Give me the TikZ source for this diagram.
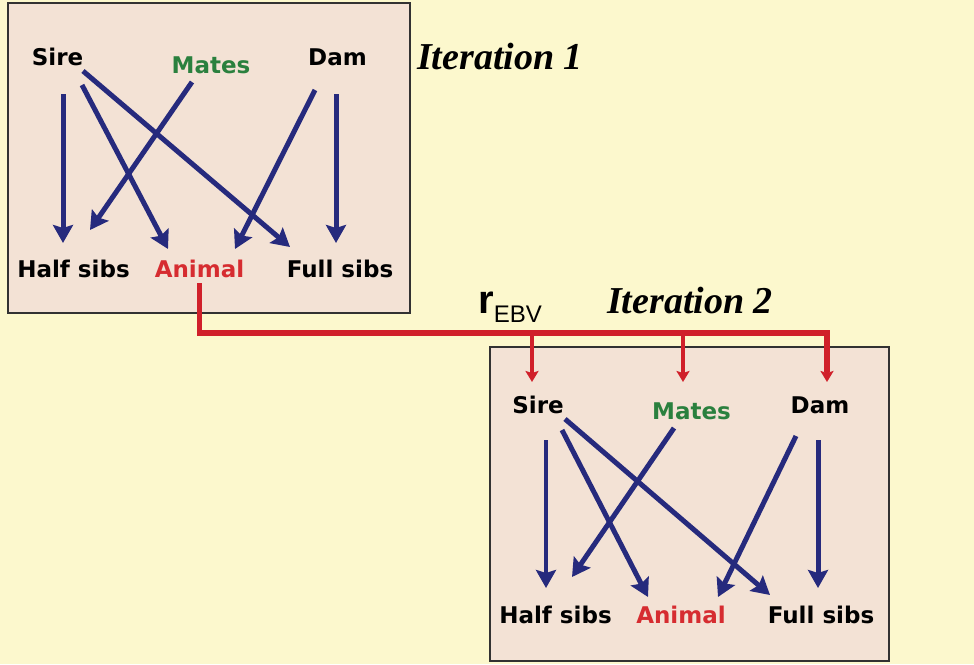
\documentclass[tikz,border=0pt]{standalone}
\usepackage{fontspec}
\usetikzlibrary{arrows.meta,calc}
\newfontfamily\labfont{DejaVu Sans}
\newfontfamily\iterfont{Liberation Serif}
\newfontfamily\rfont{Liberation Sans}
\definecolor{bgyellow}{RGB}{252,248,205}
\definecolor{boxfill}{RGB}{243,226,213}
\definecolor{boxline}{RGB}{50,50,50}
\definecolor{navy}{RGB}{38,42,125}
\definecolor{redline}{RGB}{208,32,42}
\definecolor{mategreen}{RGB}{42,128,62}
\definecolor{animred}{RGB}{214,44,48}
\tikzset{
  lab/.style={font=\labfont\bfseries\fontsize{23}{27}\selectfont, inner sep=0pt, anchor=base},
  blk/.style={lab, text=black},
  mate/.style={lab, text=mategreen},
  anim/.style={lab, text=animred},
  iter/.style={font=\iterfont\bfseries\itshape\fontsize{38}{44}\selectfont, inner sep=0pt, anchor=base west},
  panel/.style={draw=boxline, line width=2.2pt, fill=boxfill},
  link/.style={draw=navy, line width=5pt, -{Stealth[length=18pt,width=20pt,inset=3pt]}},
  thinlink/.style={link, line width=4pt},
  feed/.style={draw=redline, line width=5.5pt},
  feedarrow/.style={feed, line width=4.5pt, -{Stealth[length=11pt,width=13pt,inset=2pt]}}
}
\begin{document}
\begin{tikzpicture}[x=1pt,y=-1pt]
\useasboundingbox[fill=bgyellow] (0,0) rectangle (974,664);
% panels
\path[panel] (8,3) rectangle (410,313);
\path[panel] (490,347) rectangle (889,661);
% labels panel 1
\node[blk]  (sire1)   at (57.5,65)  {Sire};
\node[mate] (mates1)  at (211,73)   {Mates};
\node[blk]  (dam1)    at (337.5,65) {Dam};
\node[blk]  (half1)   at (73.5,277) {Half sibs};
\node[anim] (animal1) at (199.5,277){Animal};
\node[blk]  (full1)   at (340,277)  {Full sibs};
% labels panel 2
\node[blk]  (sire2)   at (538,413)  {Sire};
\node[mate] (mates2)  at (691.5,419){Mates};
\node[blk]  (dam2)    at (820,413)  {Dam};
\node[blk]  (half2)   at (555.5,623){Half sibs};
\node[anim] (animal2) at (681,623)  {Animal};
\node[blk]  (full2)   at (821,623)  {Full sibs};
% titles
\node[iter] (it1) at (417,69) {Iteration 1};
\node[iter] (it2) at (607,313) {Iteration 2};
\node[inner sep=0pt, anchor=base west] (rebv) at (478,313)
  {\rfont\bfseries\fontsize{40}{44}\selectfont r\raisebox{-9pt}{\fontsize{24}{30}\selectfont\mdseries EBV}};
% arrows panel 1
\draw[link] ($(sire1.base)+(5.5,29)$) -- ($(half1.base)+(-10.5,-34)$);
\draw[link] ($(sire1.base)+(24.5,20)$) -- ($(animal1.base)+(-31.5,-28)$);
\draw[link] ($(sire1.base)+(25.5,6)$) -- ($(full1.base)+(-50,-30)$);
\draw[link] ($(mates1.base)+(-19,9)$) -- ($(half1.base)+(16.5,-47)$);
\draw[link] ($(dam1.base)+(-22.5,25)$) -- ($(animal1.base)+(35.5,-28)$);
\draw[link] ($(dam1.base)+(-1.5,29)$) -- ($(full1.base)+(-4,-34)$);
% arrows panel 2
\draw[thinlink] ($(sire2.base)+(8,27)$) -- ($(half2.base)+(-9.5,-35)$);
\draw[link] ($(sire2.base)+(24,17)$) -- ($(animal2.base)+(-33,-26)$);
\draw[link] ($(sire2.base)+(27,6)$) -- ($(full2.base)+(-51,-28)$);
\draw[link] ($(mates2.base)+(-17.5,9)$) -- ($(half2.base)+(16.5,-46)$);
\draw[link] ($(dam2.base)+(-24,23)$) -- ($(animal2.base)+(37,-26)$);
\draw[link] ($(dam2.base)+(-2,27)$) -- ($(full2.base)+(-3,-35)$);
% red feed from Animal (iteration 1) to iteration 2
\coordinate (tipS) at ($(sire2.base)+(-6,-31)$);
\coordinate (tipM) at ($(mates2.base)+(-8.5,-37)$);
\coordinate (tipD) at ($(dam2.base)+(7,-31)$);
\coordinate (bus) at (827,333);
\draw[feed, line join=miter] ($(animal1.base)+(0,6)$) |- (bus) -- ($(tipD)+(0,-10)$);
\draw[feedarrow] (bus) -- (tipD);
\draw[feedarrow] (tipS |- bus) -- (tipS);
\draw[feedarrow] (tipM |- bus) -- (tipM);
\end{tikzpicture}
\end{document}
